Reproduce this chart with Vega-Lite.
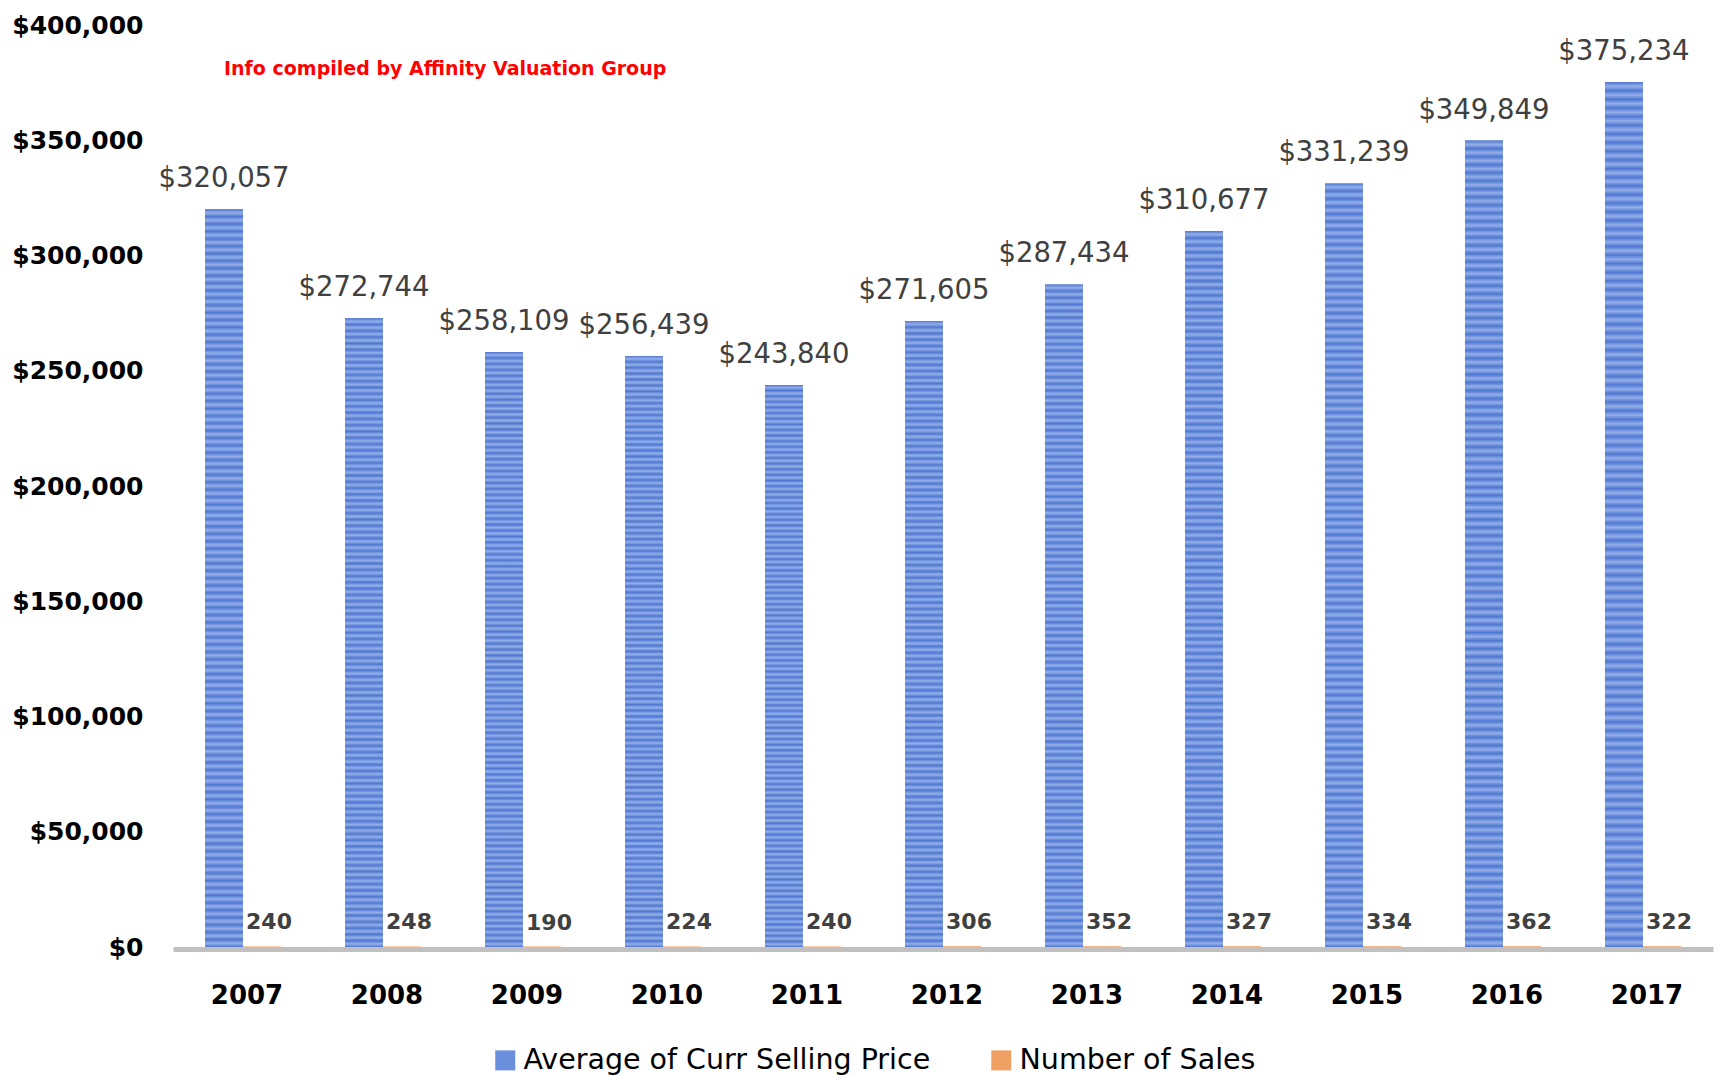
{
  "$schema": "https://vega.github.io/schema/vega-lite/v6.json",
  "width": 1540,
  "height": 922,
  "autosize": {"type": "none"},
  "padding": {"left": 173, "top": 25, "right": 6, "bottom": 128},
  "background": "white",
  "config": {"view": {"stroke": null}, "font": "DejaVu Sans"},
  "data": {"values": [
    {"year": "2007", "series": "Average of Curr Selling Price", "value": 320057},
    {"year": "2008", "series": "Average of Curr Selling Price", "value": 272744},
    {"year": "2009", "series": "Average of Curr Selling Price", "value": 258109},
    {"year": "2010", "series": "Average of Curr Selling Price", "value": 256439},
    {"year": "2011", "series": "Average of Curr Selling Price", "value": 243840},
    {"year": "2012", "series": "Average of Curr Selling Price", "value": 271605},
    {"year": "2013", "series": "Average of Curr Selling Price", "value": 287434},
    {"year": "2014", "series": "Average of Curr Selling Price", "value": 310677},
    {"year": "2015", "series": "Average of Curr Selling Price", "value": 331239},
    {"year": "2016", "series": "Average of Curr Selling Price", "value": 349849},
    {"year": "2017", "series": "Average of Curr Selling Price", "value": 375234},
    {"year": "2007", "series": "Number of Sales", "value": 240},
    {"year": "2008", "series": "Number of Sales", "value": 248},
    {"year": "2009", "series": "Number of Sales", "value": 190},
    {"year": "2010", "series": "Number of Sales", "value": 224},
    {"year": "2011", "series": "Number of Sales", "value": 240},
    {"year": "2012", "series": "Number of Sales", "value": 306},
    {"year": "2013", "series": "Number of Sales", "value": 352},
    {"year": "2014", "series": "Number of Sales", "value": 327},
    {"year": "2015", "series": "Number of Sales", "value": 334},
    {"year": "2016", "series": "Number of Sales", "value": 362},
    {"year": "2017", "series": "Number of Sales", "value": 322}
  ]},
  "layer": [
    {
      "encoding": {
        "x": {
          "field": "year", "type": "nominal",
          "scale": {"paddingInner": 0.457, "paddingOuter": 0.2286},
          "axis": {
            "title": null, "labelAngle": 0, "ticks": false, "grid": false,
            "domainColor": "#C0C0C0", "domainWidth": 5, "offset": 2,
            "labelFont": "DejaVu Sans", "labelFontWeight": "bold", "labelFontSize": 26,
            "labelColor": "#000000", "labelPadding": 33, "labelOffset": 4
          }
        },
        "xOffset": {
          "field": "series", "type": "nominal",
          "scale": {"domain": ["Average of Curr Selling Price", "Number of Sales"], "paddingInner": 0, "paddingOuter": 0}
        },
        "y": {
          "field": "value", "type": "quantitative",
          "scale": {"domain": [0, 400000], "nice": false, "zero": true},
          "axis": {
            "title": null, "values": [0, 50000, 100000, 150000, 200000, 250000, 300000, 350000, 400000],
            "format": "$,.0f", "ticks": false, "domain": false, "grid": false,
            "labelFont": "DejaVu Sans", "labelFontWeight": "bold", "labelFontSize": 25,
            "labelColor": "#000000", "labelPadding": 30
          }
        }
      },
      "layer": [
        {
          "mark": {"type": "bar"},
          "encoding": {
            "color": {
              "field": "series", "type": "nominal",
              "scale": {"domain": ["Average of Curr Selling Price", "Number of Sales"], "range": ["#6A8FDD", "#F1A064"]},
              "legend": {
                "title": null, "orient": "none", "direction": "horizontal",
                "legendX": 318, "legendY": 1021,
                "symbolType": "square", "symbolSize": 400, "symbolStrokeWidth": 0,
                "labelFont": "DejaVu Sans", "labelFontSize": 28.5, "labelColor": "#000000",
                "labelOffset": 4, "columnPadding": 56, "labelLimit": 600
              }
            }
          }
        },
        {
          "transform": [{"filter": "datum.series == 'Average of Curr Selling Price'"}],
          "mark": {"type": "bar", "fill": {"gradient": "linear", "x1": 0, "y1": 0, "x2": 0, "y2": 1, "stops": [
            {"offset":0,"color":"#5077D1"},{"offset":0.005,"color":"#93AFEA"},{"offset":0.01,"color":"#5077D1"},{"offset":0.015,"color":"#93AFEA"},{"offset":0.02,"color":"#5077D1"},{"offset":0.025,"color":"#93AFEA"},{"offset":0.03,"color":"#5077D1"},{"offset":0.035,"color":"#93AFEA"},{"offset":0.04,"color":"#5077D1"},{"offset":0.045,"color":"#93AFEA"},
            {"offset":0.05,"color":"#5077D1"},{"offset":0.055,"color":"#93AFEA"},{"offset":0.06,"color":"#5077D1"},{"offset":0.065,"color":"#93AFEA"},{"offset":0.07,"color":"#5077D1"},{"offset":0.075,"color":"#93AFEA"},{"offset":0.08,"color":"#5077D1"},{"offset":0.085,"color":"#93AFEA"},{"offset":0.09,"color":"#5077D1"},{"offset":0.095,"color":"#93AFEA"},
            {"offset":0.1,"color":"#5077D1"},{"offset":0.105,"color":"#93AFEA"},{"offset":0.11,"color":"#5077D1"},{"offset":0.115,"color":"#93AFEA"},{"offset":0.12,"color":"#5077D1"},{"offset":0.125,"color":"#93AFEA"},{"offset":0.13,"color":"#5077D1"},{"offset":0.135,"color":"#93AFEA"},{"offset":0.14,"color":"#5077D1"},{"offset":0.145,"color":"#93AFEA"},
            {"offset":0.15,"color":"#5077D1"},{"offset":0.155,"color":"#93AFEA"},{"offset":0.16,"color":"#5077D1"},{"offset":0.165,"color":"#93AFEA"},{"offset":0.17,"color":"#5077D1"},{"offset":0.175,"color":"#93AFEA"},{"offset":0.18,"color":"#5077D1"},{"offset":0.185,"color":"#93AFEA"},{"offset":0.19,"color":"#5077D1"},{"offset":0.195,"color":"#93AFEA"},
            {"offset":0.2,"color":"#5077D1"},{"offset":0.205,"color":"#93AFEA"},{"offset":0.21,"color":"#5077D1"},{"offset":0.215,"color":"#93AFEA"},{"offset":0.22,"color":"#5077D1"},{"offset":0.225,"color":"#93AFEA"},{"offset":0.23,"color":"#5077D1"},{"offset":0.235,"color":"#93AFEA"},{"offset":0.24,"color":"#5077D1"},{"offset":0.245,"color":"#93AFEA"},
            {"offset":0.25,"color":"#5077D1"},{"offset":0.255,"color":"#93AFEA"},{"offset":0.26,"color":"#5077D1"},{"offset":0.265,"color":"#93AFEA"},{"offset":0.27,"color":"#5077D1"},{"offset":0.275,"color":"#93AFEA"},{"offset":0.28,"color":"#5077D1"},{"offset":0.285,"color":"#93AFEA"},{"offset":0.29,"color":"#5077D1"},{"offset":0.295,"color":"#93AFEA"},
            {"offset":0.3,"color":"#5077D1"},{"offset":0.305,"color":"#93AFEA"},{"offset":0.31,"color":"#5077D1"},{"offset":0.315,"color":"#93AFEA"},{"offset":0.32,"color":"#5077D1"},{"offset":0.325,"color":"#93AFEA"},{"offset":0.33,"color":"#5077D1"},{"offset":0.335,"color":"#93AFEA"},{"offset":0.34,"color":"#5077D1"},{"offset":0.345,"color":"#93AFEA"},
            {"offset":0.35,"color":"#5077D1"},{"offset":0.355,"color":"#93AFEA"},{"offset":0.36,"color":"#5077D1"},{"offset":0.365,"color":"#93AFEA"},{"offset":0.37,"color":"#5077D1"},{"offset":0.375,"color":"#93AFEA"},{"offset":0.38,"color":"#5077D1"},{"offset":0.385,"color":"#93AFEA"},{"offset":0.39,"color":"#5077D1"},{"offset":0.395,"color":"#93AFEA"},
            {"offset":0.4,"color":"#5077D1"},{"offset":0.405,"color":"#93AFEA"},{"offset":0.41,"color":"#5077D1"},{"offset":0.415,"color":"#93AFEA"},{"offset":0.42,"color":"#5077D1"},{"offset":0.425,"color":"#93AFEA"},{"offset":0.43,"color":"#5077D1"},{"offset":0.435,"color":"#93AFEA"},{"offset":0.44,"color":"#5077D1"},{"offset":0.445,"color":"#93AFEA"},
            {"offset":0.45,"color":"#5077D1"},{"offset":0.455,"color":"#93AFEA"},{"offset":0.46,"color":"#5077D1"},{"offset":0.465,"color":"#93AFEA"},{"offset":0.47,"color":"#5077D1"},{"offset":0.475,"color":"#93AFEA"},{"offset":0.48,"color":"#5077D1"},{"offset":0.485,"color":"#93AFEA"},{"offset":0.49,"color":"#5077D1"},{"offset":0.495,"color":"#93AFEA"},
            {"offset":0.5,"color":"#5077D1"},{"offset":0.505,"color":"#93AFEA"},{"offset":0.51,"color":"#5077D1"},{"offset":0.515,"color":"#93AFEA"},{"offset":0.52,"color":"#5077D1"},{"offset":0.525,"color":"#93AFEA"},{"offset":0.53,"color":"#5077D1"},{"offset":0.535,"color":"#93AFEA"},{"offset":0.54,"color":"#5077D1"},{"offset":0.545,"color":"#93AFEA"},
            {"offset":0.55,"color":"#5077D1"},{"offset":0.555,"color":"#93AFEA"},{"offset":0.56,"color":"#5077D1"},{"offset":0.565,"color":"#93AFEA"},{"offset":0.57,"color":"#5077D1"},{"offset":0.575,"color":"#93AFEA"},{"offset":0.58,"color":"#5077D1"},{"offset":0.585,"color":"#93AFEA"},{"offset":0.59,"color":"#5077D1"},{"offset":0.595,"color":"#93AFEA"},
            {"offset":0.6,"color":"#5077D1"},{"offset":0.605,"color":"#93AFEA"},{"offset":0.61,"color":"#5077D1"},{"offset":0.615,"color":"#93AFEA"},{"offset":0.62,"color":"#5077D1"},{"offset":0.625,"color":"#93AFEA"},{"offset":0.63,"color":"#5077D1"},{"offset":0.635,"color":"#93AFEA"},{"offset":0.64,"color":"#5077D1"},{"offset":0.645,"color":"#93AFEA"},
            {"offset":0.65,"color":"#5077D1"},{"offset":0.655,"color":"#93AFEA"},{"offset":0.66,"color":"#5077D1"},{"offset":0.665,"color":"#93AFEA"},{"offset":0.67,"color":"#5077D1"},{"offset":0.675,"color":"#93AFEA"},{"offset":0.68,"color":"#5077D1"},{"offset":0.685,"color":"#93AFEA"},{"offset":0.69,"color":"#5077D1"},{"offset":0.695,"color":"#93AFEA"},
            {"offset":0.7,"color":"#5077D1"},{"offset":0.705,"color":"#93AFEA"},{"offset":0.71,"color":"#5077D1"},{"offset":0.715,"color":"#93AFEA"},{"offset":0.72,"color":"#5077D1"},{"offset":0.725,"color":"#93AFEA"},{"offset":0.73,"color":"#5077D1"},{"offset":0.735,"color":"#93AFEA"},{"offset":0.74,"color":"#5077D1"},{"offset":0.745,"color":"#93AFEA"},
            {"offset":0.75,"color":"#5077D1"},{"offset":0.755,"color":"#93AFEA"},{"offset":0.76,"color":"#5077D1"},{"offset":0.765,"color":"#93AFEA"},{"offset":0.77,"color":"#5077D1"},{"offset":0.775,"color":"#93AFEA"},{"offset":0.78,"color":"#5077D1"},{"offset":0.785,"color":"#93AFEA"},{"offset":0.79,"color":"#5077D1"},{"offset":0.795,"color":"#93AFEA"},
            {"offset":0.8,"color":"#5077D1"},{"offset":0.805,"color":"#93AFEA"},{"offset":0.81,"color":"#5077D1"},{"offset":0.815,"color":"#93AFEA"},{"offset":0.82,"color":"#5077D1"},{"offset":0.825,"color":"#93AFEA"},{"offset":0.83,"color":"#5077D1"},{"offset":0.835,"color":"#93AFEA"},{"offset":0.84,"color":"#5077D1"},{"offset":0.845,"color":"#93AFEA"},
            {"offset":0.85,"color":"#5077D1"},{"offset":0.855,"color":"#93AFEA"},{"offset":0.86,"color":"#5077D1"},{"offset":0.865,"color":"#93AFEA"},{"offset":0.87,"color":"#5077D1"},{"offset":0.875,"color":"#93AFEA"},{"offset":0.88,"color":"#5077D1"},{"offset":0.885,"color":"#93AFEA"},{"offset":0.89,"color":"#5077D1"},{"offset":0.895,"color":"#93AFEA"},
            {"offset":0.9,"color":"#5077D1"},{"offset":0.905,"color":"#93AFEA"},{"offset":0.91,"color":"#5077D1"},{"offset":0.915,"color":"#93AFEA"},{"offset":0.92,"color":"#5077D1"},{"offset":0.925,"color":"#93AFEA"},{"offset":0.93,"color":"#5077D1"},{"offset":0.935,"color":"#93AFEA"},{"offset":0.94,"color":"#5077D1"},{"offset":0.945,"color":"#93AFEA"},
            {"offset":0.95,"color":"#5077D1"},{"offset":0.955,"color":"#93AFEA"},{"offset":0.96,"color":"#5077D1"},{"offset":0.965,"color":"#93AFEA"},{"offset":0.97,"color":"#5077D1"},{"offset":0.975,"color":"#93AFEA"},{"offset":0.98,"color":"#5077D1"},{"offset":0.985,"color":"#93AFEA"},{"offset":0.99,"color":"#5077D1"},{"offset":0.995,"color":"#93AFEA"},
            {"offset":1,"color":"#5077D1"}
          ]}}
        },
        {
          "transform": [{"filter": "datum.series == 'Average of Curr Selling Price'"}],
          "mark": {"type": "text", "baseline": "alphabetic", "align": "center", "dy": -22, "font": "DejaVu Sans", "fontSize": 27.5, "color": "#404040"},
          "encoding": {"text": {"field": "value", "type": "quantitative", "format": "$,.0f"}}
        },
        {
          "transform": [{"filter": "datum.series == 'Number of Sales'"}],
          "mark": {"type": "text", "baseline": "alphabetic", "align": "center", "dy": -17, "dx": 7, "font": "DejaVu Sans", "fontWeight": "bold", "fontSize": 22, "color": "#404040"},
          "encoding": {"text": {"field": "value", "type": "quantitative", "format": "d"}}
        }
      ]
    },
    {
      "data": {"values": [{"note": "Info compiled by Affinity Valuation Group"}]},
      "mark": {"type": "text", "baseline": "middle", "align": "left", "dx": -19, "font": "DejaVu Sans", "fontWeight": "bold", "fontSize": 19, "color": "#FF0000"},
      "encoding": {
        "x": {"datum": "2007", "type": "nominal"},
        "y": {"datum": 381000, "type": "quantitative"},
        "text": {"field": "note", "type": "nominal"}
      }
    }
  ]
}
